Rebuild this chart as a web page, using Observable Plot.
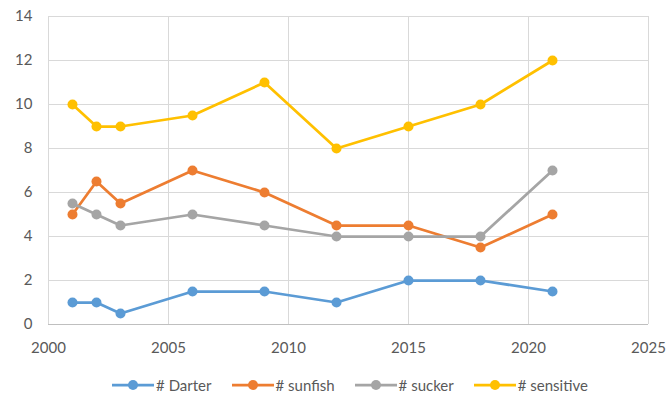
<!DOCTYPE html>
<html>
<head>
<meta charset="utf-8">
<script src="https://cdn.jsdelivr.net/npm/d3@7"></script>
<script src="https://cdn.jsdelivr.net/npm/@observablehq/plot@0.6"></script>
<style>
  html, body { margin: 0; padding: 0; background: #fff; }
  body { width: 668px; height: 396px; overflow: hidden; font-family: Lato, "Open Sans", sans-serif; }
  #legend { display: flex; justify-content: center; align-items: center; margin-left: 32px; margin-top: 10px; font-size: 15px; color: #595959; }
  .item { display: flex; align-items: center; margin: 0 10px; }
  .item svg { margin-right: 2px; }
</style>
</head>
<body>
<div id="chart"></div>
<div id="legend"></div>
<script>
const years = [2001, 2002, 2003, 2006, 2009, 2012, 2015, 2018, 2021];
const seriesNames = ["# Darter", "# sunfish", "# sucker", "# sensitive"];
const darter    = [1, 1, 0.5, 1.5, 1.5, 1, 2, 2, 1.5];
const sunfish   = [5, 6.5, 5.5, 7, 6, 4.5, 4.5, 3.5, 5];
const sucker    = [5.5, 5, 4.5, 5, 4.5, 4, 4, 4, 7];
const sensitive = [10, 9, 9, 9.5, 11, 8, 9, 10, 12];
const colors = ["#5b9bd5", "#ed7d31", "#a5a5a5", "#ffc000"];
const xTicks = [2000, 2005, 2010, 2015, 2020, 2025];
const yTicks = [0, 2, 4, 6, 8, 10, 12, 14];

const valueSets = [darter, sunfish, sucker, sensitive];
const data = [];
seriesNames.forEach((s, i) => {
  years.forEach((y, j) => data.push({series: s, year: y, value: valueSets[i][j]}));
});

const chart = Plot.plot({
  width: 668,
  height: 366,
  marginLeft: 48,
  marginRight: 20,
  marginTop: 16,
  marginBottom: 42,
  style: { fontFamily: "Lato, 'Open Sans', sans-serif", fontSize: "15px", color: "#595959", background: "#fff" },
  x: { domain: [2000, 2025], ticks: xTicks, tickFormat: d => String(d), tickSize: 0, tickPadding: 18, label: null },
  y: { domain: [0, 14], ticks: yTicks, tickSize: 0, tickPadding: 16, label: null },
  color: { domain: seriesNames, range: colors },
  marks: [
    Plot.gridX(xTicks, { stroke: "#d9d9d9", strokeOpacity: 1, strokeWidth: 1 }),
    Plot.gridY(yTicks, { stroke: "#d9d9d9", strokeOpacity: 1, strokeWidth: 1 }),
    Plot.ruleY([0], { stroke: "#bfbfbf", strokeWidth: 1 }),
    Plot.axisX({ ticks: xTicks, tickFormat: d => String(d), tickSize: 0, tickPadding: 18, fill: "#595959" }),
    Plot.axisY({ ticks: yTicks, tickSize: 0, tickPadding: 16, fill: "#595959" }),
    Plot.line(data, { x: "year", y: "value", z: "series", stroke: "series", strokeWidth: 2.75, strokeLinejoin: "round" }),
    Plot.dot(data, { x: "year", y: "value", fill: "series", r: 5 })
  ]
});
document.getElementById("chart").appendChild(chart);

const legend = document.getElementById("legend");
seriesNames.forEach((s, i) => {
  const item = document.createElement("div");
  item.className = "item";
  item.innerHTML = `<svg width="42" height="12"><line x1="0" y1="6" x2="42" y2="6" stroke="${colors[i]}" stroke-width="2.75"/><circle cx="21" cy="6" r="5" fill="${colors[i]}"/></svg><span>${s}</span>`;
  legend.appendChild(item);
});
</script>
</body>
</html>
